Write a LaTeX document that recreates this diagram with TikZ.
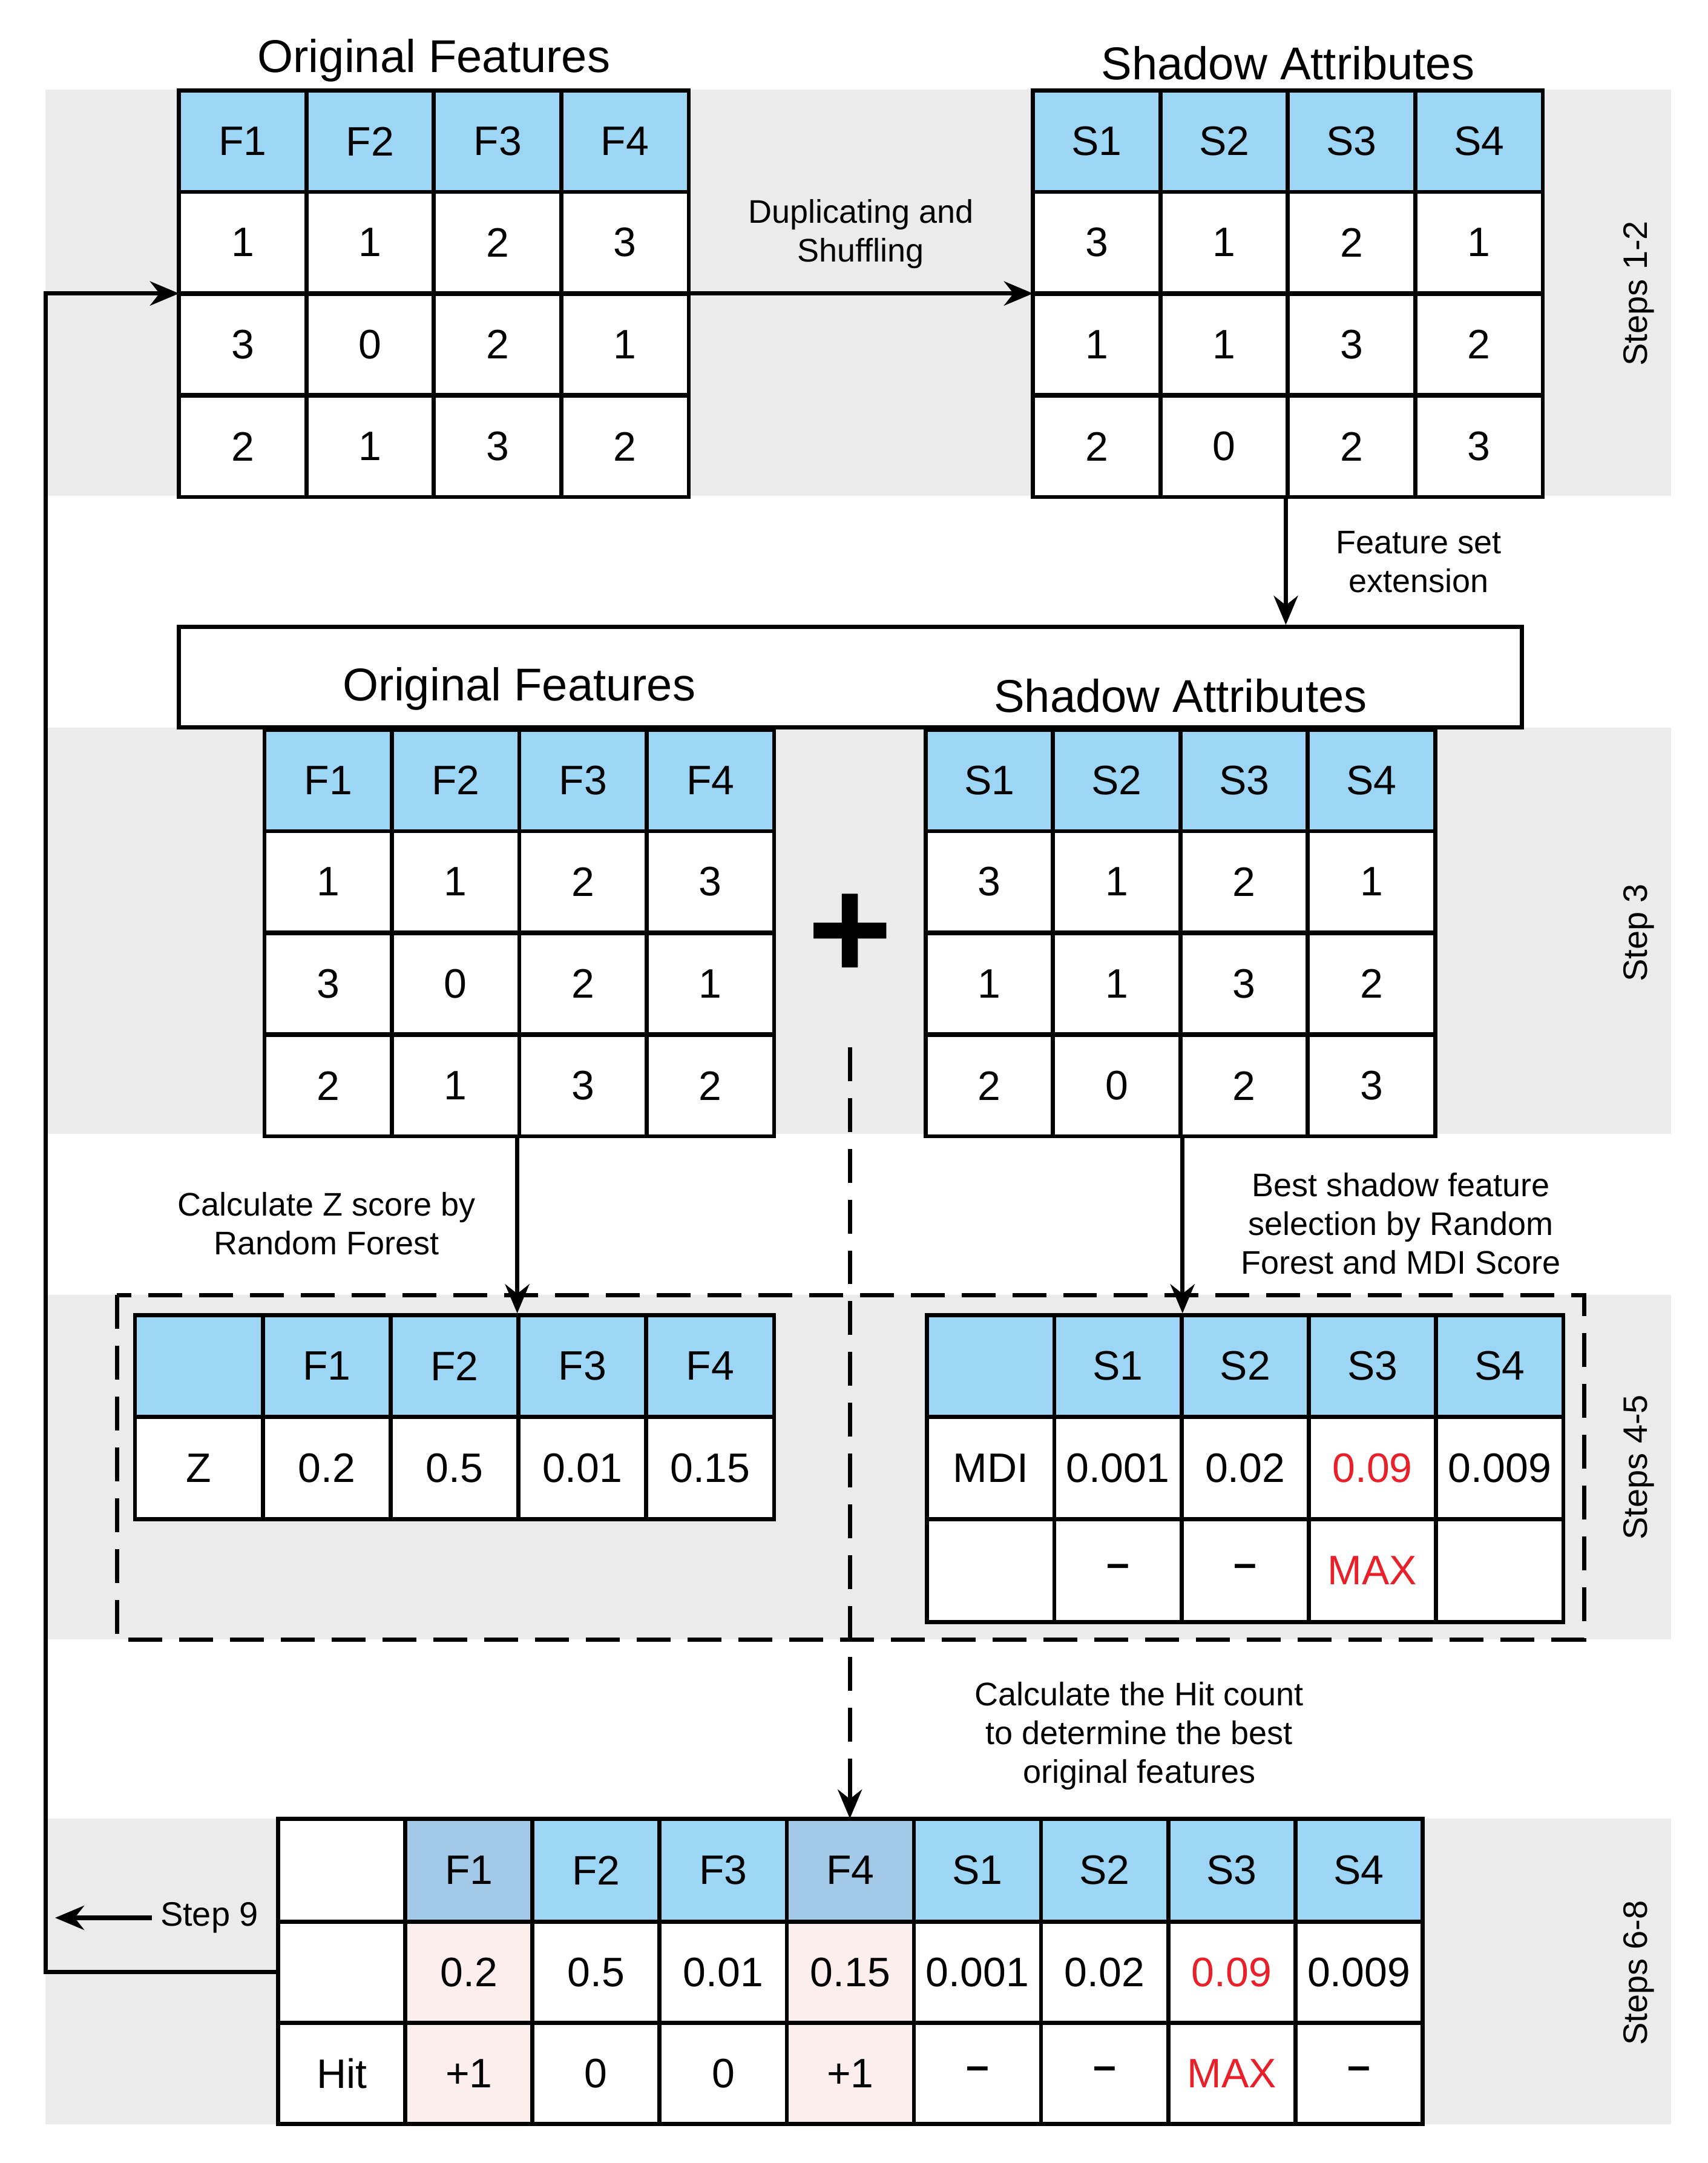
\documentclass[tikz,border=0pt]{standalone}
\usepackage{fontspec}
\setmainfont{Liberation Sans}
\usetikzlibrary{arrows.meta}
\definecolor{hb}{HTML}{9DD6F4}
\definecolor{hd}{HTML}{A3C9E8}
\definecolor{pk}{HTML}{FDEEEE}
\definecolor{band}{HTML}{EBEBEB}
\definecolor{rd}{HTML}{E8202A}
\tikzset{
 cell/.style={draw=black,line width=1.7pt,inner sep=0pt,font=\fontsize{17}{20}\selectfont},
 lab/.style={align=center,font=\fontsize{13.5}{16}\selectfont},
 ttl/.style={font=\fontsize{19}{22}\selectfont},
 arr/.style={line width=1.8pt,-{Stealth[length=12pt,width=10pt]}},
 dsh/.style={line width=1.7pt,dash pattern=on 14pt off 7pt},
 stp/.style={rotate=90,font=\fontsize{14}{16}\selectfont}
}
\newcommand\rowcells[6]{%
 \foreach \f/\t [count=\i] in {#6}{%
  \node[cell,fill=\f,minimum width=#4*0.02cm,minimum height=#5*0.02cm] (#1\i) at ({#2+#4*(\i-0.5)},#3) {\t};}}
\begin{document}
\begin{tikzpicture}[x=0.02cm,y=-0.02cm]
\useasboundingbox (0,0) rectangle (1240,1570);
\fill[band] (33,65) rectangle (1213,360);
\fill[band] (33,528) rectangle (1213,823);
\fill[band] (33,940) rectangle (1213,1190);
\fill[band] (33,1320) rectangle (1213,1542);
% table 1
\node[ttl] (t1t) at (315,44) {Original Features};
\rowcells{a0}{130}{102.5}{92.5}{73.5}{hb/F1,hb/F2,hb/F3,hb/F4}
\rowcells{a1}{130}{176}{92.5}{73.5}{white/1,white/1,white/2,white/3}
\rowcells{a2}{130}{250}{92.5}{73.5}{white/3,white/0,white/2,white/1}
\rowcells{a3}{130}{324}{92.5}{73.5}{white/2,white/1,white/3,white/2}
% table 2
\node[ttl] (t2t) at (935,46) {Shadow Attributes};
\rowcells{b0}{750}{102.5}{92.5}{73.5}{hb/S1,hb/S2,hb/S3,hb/S4}
\rowcells{b1}{750}{176}{92.5}{73.5}{white/3,white/1,white/2,white/1}
\rowcells{b2}{750}{250}{92.5}{73.5}{white/1,white/1,white/3,white/2}
\rowcells{b3}{750}{324}{92.5}{73.5}{white/2,white/0,white/2,white/3}
\coordinate (a1L) at (130,213);
\coordinate (a1R) at (500,213);
\coordinate (b1L) at (750,213);
\draw[arr] (a1R) -- node[lab,above=6pt]{Duplicating and\\Shuffling} (b1L);
% big box
\node[draw,line width=1.7pt,minimum width=975*0.02cm,minimum height=73*0.02cm] (box) at (617.5,491.5) {};
\node[ttl] at (377,500) {Original Features};
\node[ttl] at (857,505) {Shadow Attributes};
\draw[arr] (b33.south west) -- (box.north -| b33.south west);
\node[lab] at (1030,408) {Feature set\\extension};
% table 3
\rowcells{c0}{192}{566.5}{92.5}{73.5}{hb/F1,hb/F2,hb/F3,hb/F4}
\rowcells{c1}{192}{640}{92.5}{73.5}{white/1,white/1,white/2,white/3}
\rowcells{c2}{192}{714}{92.5}{73.5}{white/3,white/0,white/2,white/1}
\rowcells{c3}{192}{788}{92.5}{73.5}{white/2,white/1,white/3,white/2}
% table 4
\rowcells{d0}{672}{566.5}{92.5}{73.5}{hb/S1,hb/S2,hb/S3,hb/S4}
\rowcells{d1}{672}{640}{92.5}{73.5}{white/3,white/1,white/2,white/1}
\rowcells{d2}{672}{714}{92.5}{73.5}{white/1,white/1,white/3,white/2}
\rowcells{d3}{672}{788}{92.5}{73.5}{white/2,white/0,white/2,white/3}
\node[font=\fontsize{60}{60}\selectfont\bfseries] (plus) at (617,680) {+};
% dashed
\draw[dsh] (85,940) rectangle (1150,1190);
\coordinate (dtop) at (617,760);
% table 5
\rowcells{e0}{98}{991.5}{92.8}{73.5}{hb/,hb/F1,hb/F2,hb/F3,hb/F4}
\rowcells{e1}{98}{1065.5}{92.8}{74.5}{white/Z,white/0.2,white/0.5,white/0.01,white/0.15}
% table 6
\rowcells{f0}{673}{991.5}{92.4}{73.5}{hb/,hb/S1,hb/S2,hb/S3,hb/S4}
\rowcells{f1}{673}{1065.5}{92.4}{74.5}{white/MDI,white/0.001,white/0.02,white/\textcolor{rd}{0.09},white/0.009}
\rowcells{f2}{673}{1140}{92.4}{74.5}{white/,white/\textbf{–},white/\textbf{–},white/\textcolor{rd}{MAX},white/}
\draw[arr] (c33.south west) -- (c33.south west |- e04.north west);
\draw[arr] (d32.south east) -- (d32.south east |- f02.north east);
\node[lab] at (237,888) {Calculate Z score by\\Random Forest};
\node[lab] at (1017,888) {Best shadow feature\\selection by Random\\Forest and MDI Score};
% table 7
\rowcells{g0}{202}{1357.5}{92.3}{74.5}{white/,hd/F1,hb/F2,hb/F3,hd/F4,hb/S1,hb/S2,hb/S3,hb/S4}
\rowcells{g1}{202}{1431.5}{92.3}{73.5}{white/,pk/0.2,white/0.5,white/0.01,pk/0.15,white/0.001,white/0.02,white/\textcolor{rd}{0.09},white/0.009}
\rowcells{g2}{202}{1505}{92.3}{73.5}{white/Hit,pk/+1,white/0,white/0,pk/+1,white/\textbf{–},white/\textbf{–},white/\textcolor{rd}{MAX},white/\textbf{–}}
\coordinate (dbot) at (617,1320);
\draw[dsh] (dtop) -- (617,1290);
\draw[arr] (617,1290) -- (dbot);
\node[lab] at (827,1260) {Calculate the Hit count\\to determine the best\\original features};
% feedback
\draw[arr] (g11.west) -- (33,1431.5) -- (33,213) -- (a1L);
\node[lab,font=\fontsize{14}{16}\selectfont] (s9) at (152,1392) {Step 9};
\coordinate (s9e) at (40,1392);
\draw[arr] (s9.west) -- (s9e);
\node[stp] at (1190,213) {Steps 1-2};
\node[stp] at (1190,677) {Step 3};
\node[stp] at (1190,1065) {Steps 4-5};
\node[stp] at (1190,1432) {Steps 6-8};
\end{tikzpicture}
\end{document}
